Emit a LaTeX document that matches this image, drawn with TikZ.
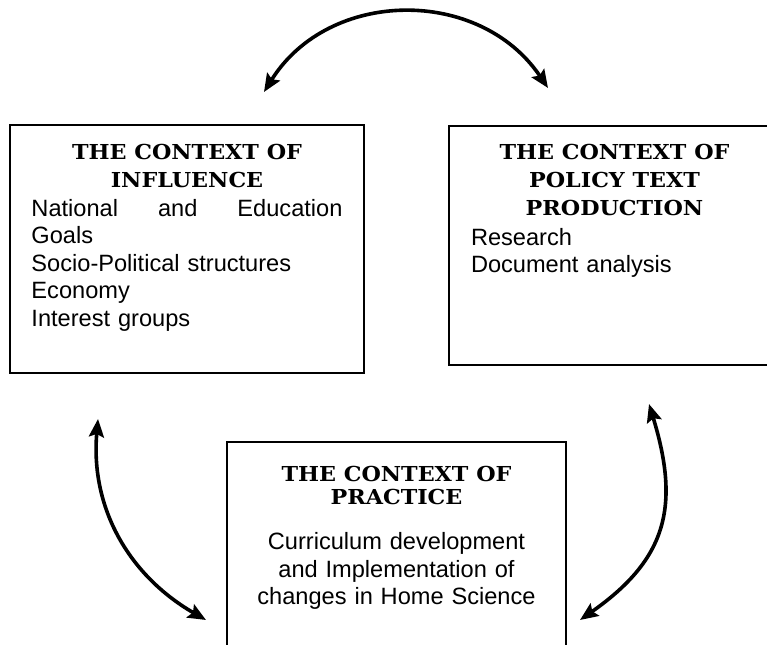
\documentclass[tikz,border=0pt]{standalone}
\usepackage{fontspec}
\setmainfont{Liberation Sans}
\newfontfamily\titlefont[FakeStretch=1.08]{DejaVu Serif}
\usetikzlibrary{positioning,arrows.meta}

\tikzset{
  ctxbox/.style={draw, line width=1pt, inner sep=0pt},
  ctxtitle/.style={inner sep=0pt, align=center, font=\titlefont\bfseries\fontsize{10.3pt}{14pt}\selectfont},
  ctxbody/.style={inner sep=0pt, text width=#1, font=\fontsize{11.8pt}{13.75pt}\selectfont},
  cyclearrow/.style={line width=1.8pt, {Stealth[length=9pt,width=7.5pt,inset=1.5pt]}-{Stealth[length=9pt,width=7.5pt,inset=1.5pt]}}
}

\begin{document}
\begin{tikzpicture}[x=0.5pt, y=0.5pt]
\useasboundingbox (0,0) rectangle (767,644);
\clip (0,0) rectangle (767,644);

% the three contexts
\node[ctxbox, minimum width=177pt, minimum height=124pt] (infl) at (187,395) {};
\node[ctxbox, minimum width=165.5pt, minimum height=119.5pt] (prod) at (614.5,398.5) {};
\node[ctxbox, line width=0.7pt, minimum width=169.5pt, minimum height=111pt] (prac) at (396.5,91) {};

\node[ctxtitle, below=9.7pt of infl.north] (infltitle) {THE CONTEXT OF\\INFLUENCE};
\node[ctxbody=155.5pt, align=left, below=5.6pt of infltitle] (inflbody)
  {National\hfill and\hfill Education\\Goals\\Socio-Political structures\\Economy\\Interest groups};

\node[ctxtitle, below=9.2pt of prod.north] (prodtitle) {THE CONTEXT OF\\POLICY TEXT\\PRODUCTION};
\node[ctxbody=143.5pt, align=left, below=6.1pt of prodtitle] (prodbody) {Research\\Document analysis};

\node[ctxtitle, font=\titlefont\bfseries\fontsize{10.3pt}{11.5pt}\selectfont, below=12.2pt of prac.north] (practitle) {THE CONTEXT OF\\PRACTICE};
\node[ctxbody=169.5pt, align=center, below=13.5pt of practitle] (pracbody)
  {Curriculum development\\and Implementation of\\changes in Home Science};

% arrows between them
\coordinate (topl) at (264,552);
\coordinate (topr) at (548,556);
\coordinate (lefttop) at (98,225);
\coordinate (leftbot) at (206,24);
\coordinate (righttop) at (649,240);
\coordinate (rightbot) at (580,24);
\draw[cyclearrow] (topl) to[out=58, in=124, looseness=1.1] (topr);
\draw[cyclearrow] (lefttop) to[out=265, in=150] (leftbot);
\draw[cyclearrow] (righttop) to[out=-73, in=35, looseness=1.2] (rightbot);
\end{tikzpicture}
\end{document}
